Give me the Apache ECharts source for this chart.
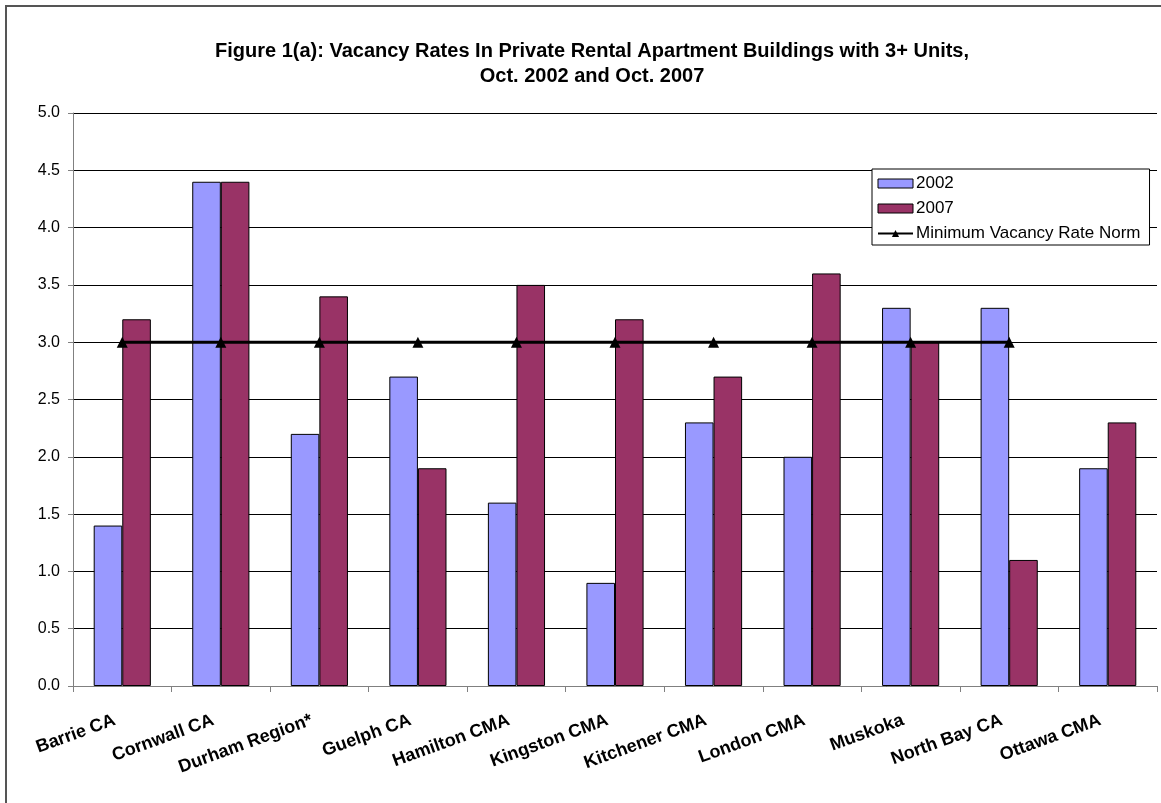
<!DOCTYPE html>
<html>
<head>
    <meta charset="UTF-8">
    <title>Vacancy Rates</title>
    <script src="https://cdn.jsdelivr.net/npm/echarts/dist/echarts.min.js"></script>
    <style>
        body { margin: 0; padding: 0; background: #fff; }
        #chart { width: 1161px; height: 803px; }
    </style>
</head>
<body>
    <div id="chart"></div>
    <script>
        const categories = ['Barrie CA', 'Cornwall CA', 'Durham Region*', 'Guelph CA', 'Hamilton CMA',
            'Kingston CMA', 'Kitchener CMA', 'London CMA', 'Muskoka', 'North Bay CA', 'Ottawa CMA'];
        const rates2002 = [1.4, 4.4, 2.2, 2.7, 1.6, 0.9, 2.3, 2.0, 3.3, 3.3, 1.9];
        const rates2007 = [3.2, 4.4, 3.4, 1.9, 3.5, 3.2, 2.7, 3.6, 3.0, 1.1, 2.3];
        const normLine = [3, 3, 3, 3, 3, 3, 3, 3, 3, 3, null];

        const font = '"Liberation Sans", Arial, sans-serif';
        const chart = echarts.init(document.getElementById('chart'));

        chart.setOption({
            animation: false,
            textStyle: { fontFamily: font },
            graphic: [{
                type: 'rect',
                shape: { x: 6, y: 6, width: 1200, height: 850 },
                style: { fill: 'none', stroke: '#555', lineWidth: 2 },
                silent: true
            }],
            title: {
                text: 'Figure 1(a): Vacancy Rates In Private Rental Apartment Buildings with 3+ Units,\nOct. 2002 and Oct. 2007',
                left: 587,
                textAlign: 'center',
                top: 34,
                textStyle: { fontFamily: font, fontSize: 20, fontWeight: 'bold', color: '#000', lineHeight: 25 }
            },
            legend: {
                orient: 'vertical',
                left: 872,
                top: 169,
                padding: [6, 9, 3, 5],
                itemGap: 8,
                itemWidth: 35,
                itemHeight: 9,
                borderColor: '#000',
                borderWidth: 1,
                backgroundColor: '#fff',
                textStyle: { fontFamily: font, fontSize: 17, color: '#000', padding: [0, 0, 0, -2] },
                data: [
                    { name: '2002', icon: 'rect', itemStyle: { borderColor: '#000', borderWidth: 1 } },
                    { name: '2007', icon: 'rect', itemStyle: { borderColor: '#000', borderWidth: 1 } },
                    { name: 'Minimum Vacancy Rate Norm' }
                ]
            },
            grid: { left: 73, top: 113, right: 4, bottom: 117 },
            xAxis: {
                type: 'category',
                data: categories,
                axisLine: { lineStyle: { color: '#808080', width: 1 } },
                axisTick: { show: true, length: 6, lineStyle: { color: '#808080' } },
                axisLabel: {
                    rotate: 20,
                    interval: 0,
                    margin: 31,
                    padding: [0, 8, 0, 0],
                    fontFamily: font,
                    fontSize: 18,
                    fontWeight: 'bold',
                    color: '#000'
                }
            },
            yAxis: {
                type: 'value',
                min: 0,
                max: 5,
                interval: 0.5,
                axisLine: { show: true, lineStyle: { color: '#808080' } },
                axisTick: { show: true, length: 5, lineStyle: { color: '#808080' } },
                splitLine: { lineStyle: { color: '#000', width: 1 } },
                axisLabel: {
                    fontFamily: font,
                    fontSize: 16,
                    color: '#000',
                    margin: 13,
                    formatter: v => v.toFixed(1)
                }
            },
            series: [
                {
                    name: '2002',
                    type: 'bar',
                    data: rates2002,
                    barGap: '0%',
                    barCategoryGap: '42%',
                    itemStyle: { color: '#9999FF', borderColor: '#000', borderWidth: 1 }
                },
                {
                    name: '2007',
                    type: 'bar',
                    data: rates2007,
                    itemStyle: { color: '#993366', borderColor: '#000', borderWidth: 1 }
                },
                {
                    name: 'Minimum Vacancy Rate Norm',
                    type: 'line',
                    data: normLine,
                    z: 5,
                    symbol: 'triangle',
                    symbolSize: 11,
                    lineStyle: { color: '#000', width: 3 },
                    itemStyle: { color: '#000' }
                }
            ]
        });
    </script>
</body>
</html>
